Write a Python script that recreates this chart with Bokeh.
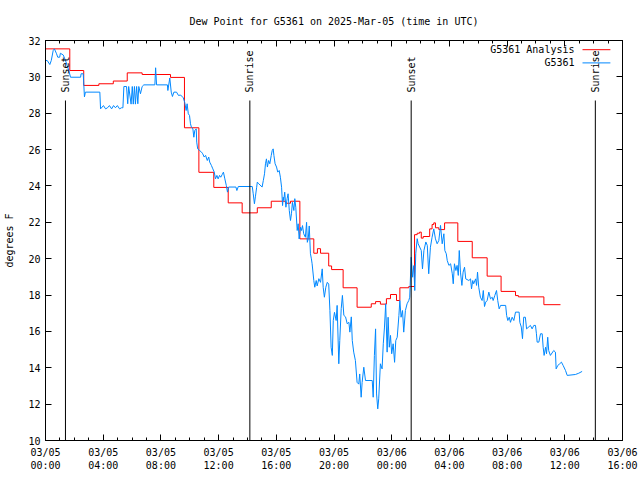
import math
import pandas as pd
from bokeh.plotting import figure
from bokeh.models import (FixedTicker, DatetimeTickFormatter, LinearAxis, DatetimeAxis,
                          Range1d, CustomJSTickFormatter)
from bokeh.embed import file_html
from bokeh.resources import INLINE
from bokeh.core.properties import value

TITLE = "Dew Point for G5361 on 2025-Mar-05 (time in UTC)"
Y_LABEL = "degrees F"
START = "2025-03-05 00:00"
END = "2025-03-06 16:00"
Y_TICKS = [10, 12, 14, 16, 18, 20, 22, 24, 26, 28, 30, 32]

# Analysis series (minutes after START, degrees F), step-wise
analysis_minutes = [0, 101, 159, 222, 282, 340, 402, 520, 578, 638, 700, 760, 818, 881, 939,
                    998, 1019, 1058, 1116, 1131, 1144, 1178, 1190, 1238, 1296, 1355, 1373,
                    1393, 1418, 1435, 1460, 1474, 1511, 1535, 1546, 1556, 1563, 1571, 1598,
                    1608, 1615, 1622, 1636, 1660, 1715, 1775, 1837, 1895, 1955, 1967, 2073,
                    2142]
analysis_values = [31.54, 30.35, 29.53, 29.62, 29.77, 30.22, 30.13, 29.97, 27.2, 24.75, 23.92,
                   23.07, 22.52, 22.8, 23.16, 23.05, 23.16, 21.09, 20.3, 20.55, 20.3, 19.6,
                   19.4, 18.4, 17.33, 17.52, 17.64, 17.5, 17.8, 18.03, 17.7, 18.4, 18.47,
                   21.32, 21.4, 21.46, 21.13, 21.22, 21.64, 21.88, 21.97, 21.7, 21.6, 21.97,
                   20.95, 20.05, 19.04, 18.2, 17.97, 17.9, 17.47, 17.47]

# Station observations (minutes after START, degrees F)
obs_minutes = [2, 7, 18, 24, 32, 37, 46, 51, 59, 62, 74, 83, 90, 97, 104, 146, 148, 157, 162,
               166, 226, 229, 241, 250, 258, 266, 275, 283, 291, 299, 308, 316, 322, 326, 337,
               342, 346, 356, 361, 365, 370, 374, 379, 384, 388, 395, 402, 409, 455, 458, 462,
               507, 509, 517, 523, 528, 534, 545, 553, 562, 573, 579, 585, 589, 594, 599, 603,
               607, 613, 617, 621, 627, 629, 633, 641, 649, 654, 660, 666, 673, 679, 683, 690,
               696, 702, 707, 713, 718, 724, 729, 735, 740, 746, 752, 757, 762, 792, 796, 802,
               860, 864, 869, 873, 878, 881, 887, 901, 906, 911, 915, 919, 923, 928, 933, 939,
               943, 947, 950, 955, 961, 966, 972, 977, 982, 986, 989, 991, 995, 1000, 1005,
               1009, 1014, 1019, 1023, 1027, 1033, 1037, 1041, 1047, 1051, 1055, 1061, 1065,
               1069, 1074, 1081, 1086, 1089, 1093, 1097, 1102, 1106, 1109, 1116, 1120, 1126,
               1130, 1137, 1144, 1151, 1155, 1160, 1166, 1172, 1178, 1183, 1188, 1193, 1197,
               1202, 1209, 1213, 1220, 1224, 1230, 1235, 1241, 1248, 1255, 1262, 1266, 1272,
               1276, 1282, 1289, 1296, 1303, 1307, 1313, 1317, 1324, 1331, 1359, 1363, 1368,
               1373, 1377, 1382, 1386, 1393, 1400, 1405, 1410, 1415, 1421, 1425, 1430, 1435,
               1440, 1446, 1452, 1457, 1463, 1470, 1474, 1479, 1485, 1490, 1497, 1504, 1511,
               1515, 1521, 1527, 1532, 1536, 1540, 1546, 1550, 1563, 1568, 1574, 1582, 1588,
               1594, 1601, 1608, 1615, 1622, 1629, 1636, 1643, 1650, 1657, 1661, 1667, 1671,
               1678, 1685, 1692, 1696, 1701, 1707, 1712, 1717, 1721, 1726, 1732, 1737, 1743,
               1748, 1761, 1768, 1772, 1777, 1781, 1789, 1793, 1797, 1802, 1809, 1816, 1821,
               1826, 1831, 1837, 1844, 1851, 1858, 1862, 1869, 1876, 1881, 1887, 1893, 1914,
               1918, 1923, 1929, 1934, 1941, 1948, 1955, 1970, 1973, 1979, 1984, 1989, 1996,
               2001, 2017, 2024, 2031, 2038, 2042, 2045, 2052, 2059, 2066, 2070, 2074, 2080,
               2084, 2089, 2093, 2100, 2114, 2121, 2124, 2131, 2139, 2146, 2153, 2163, 2170,
               2204, 2218, 2232]
obs_values = [30.9, 30.9, 30.68, 30.9, 31.45, 31.54, 31.27, 31.08, 31.08, 31.3, 31.2, 30.9,
              30.63, 30.35, 29.98, 29.98, 30.17, 30.17, 28.9, 29.16, 29.16, 28.24, 28.42,
              28.24, 28.3, 28.42, 28.24, 28.42, 28.3, 28.42, 28.24, 28.3, 28.3, 29.47, 29.47,
              28.52, 29.47, 28.5, 29.47, 28.5, 29.47, 28.5, 29.47, 28.52, 29.47, 29.07, 29.47,
              29.56, 29.56, 30.5, 29.56, 29.56, 29.25, 29.94, 29.16, 28.92, 29.16, 29.16,
              28.98, 29.0, 28.85, 28.6, 28.15, 28.52, 27.97, 27.88, 27.42, 27.23, 27.14,
              26.68, 27.05, 27.14, 26.41, 26.04, 25.95, 25.86, 25.77, 25.59, 25.68, 25.4,
              25.59, 25.31, 25.13, 24.94, 24.76, 24.39, 24.58, 24.39, 24.58, 24.48, 24.63,
              24.76, 24.39, 24.03, 23.66, 23.94, 23.94, 23.75, 23.97, 23.97, 23.57, 23.02,
              23.4, 23.9, 24.21, 24.12, 23.94, 24.3, 24.67, 25.22, 25.49, 25.04, 25.4, 25.22,
              25.68, 25.95, 26.04, 25.68, 25.22, 25.04, 24.76, 24.85, 24.48, 23.93, 22.92,
              23.38, 23.2, 23.66, 22.83, 23.3, 23.57, 22.65, 22.1, 22.47, 23.1, 22.65, 23.3,
              22.83, 21.55, 21.92, 21.09, 21.73, 21.55, 21.82, 21.37, 21.18, 22.0, 20.9,
              21.1, 21.8, 20.27, 19.99, 19.72, 18.8, 18.43, 18.8, 18.5, 18.9, 18.7, 19.44,
              18.43, 17.88, 18.43, 18.7, 18.6, 17.15, 15.13, 14.68, 16.6, 17.05, 16.6, 17.43,
              14.22, 15.5, 17.25, 17.98, 16.88, 16.8, 16.42, 16.5, 15.96, 16.8, 15.5, 14.86,
              14.4, 13.2, 13.1, 13.66, 12.38, 13.2, 14.03, 13.3, 13.3, 12.38, 14.68, 16.14,
              12.56, 11.74, 12.29, 14.22, 13.94, 15.32, 16.24, 17.52, 14.86, 16.78, 15.13,
              15.78, 14.77, 15.32, 14.3, 15.5, 15.68, 16.88, 17.7, 16.78, 17.15, 15.96, 17.15,
              17.52, 17.7, 17.88, 20.08, 18.98, 19.62, 18.25, 20.27, 21.1, 20.82, 20.45,
              19.44, 20.45, 20.92, 20.73, 19.17, 20.63, 21.18, 21.64, 21.09, 20.82, 21.0,
              21.83, 20.82, 21.37, 20.45, 20.27, 19.9, 19.63, 19.72, 19.17, 18.62, 19.72,
              19.35, 19.63, 19.08, 20.45, 19.26, 18.53, 19.26, 19.53, 18.89, 18.8, 18.89,
              18.34, 18.8, 18.62, 18.89, 18.53, 19.26, 18.43, 17.88, 17.7, 18.25, 17.37,
              17.61, 17.7, 18.16, 17.79, 17.88, 17.7, 17.98, 18.25, 17.7, 17.24, 17.43, 17.43,
              16.88, 16.6, 16.78, 16.5, 16.78, 16.6, 17.06, 17.06, 16.5, 16.24, 15.6, 16.78,
              16.78, 16.14, 16.33, 16.14, 16.33, 16.33, 15.87, 15.41, 15.41, 15.87, 15.87,
              15.13, 14.68, 15.13, 14.77, 15.68, 14.95, 14.68, 14.95, 14.86, 13.94, 14.13,
              14.22, 14.31, 14.13, 13.85, 13.58, 13.63, 13.7, 13.8]

event_names = ["Sunset", "Sunrise", "Sunset", "Sunrise"]
event_times = ["2025-03-05 01:23", "2025-03-05 14:10", "2025-03-06 01:21", "2025-03-06 14:07"]

legend_names = ["G5361 Analysis", "G5361"]
RED = "#ff0000"
BLUE = "#0088ff"
FONT = "DejaVu Sans Mono"
FS = "10px"

t0 = pd.Timestamp(START)
t1 = pd.Timestamp(END)
a_t = [t0 + pd.Timedelta(minutes=m) for m in analysis_minutes]
o_t = [t0 + pd.Timedelta(minutes=m) for m in obs_minutes]
e_t = [pd.Timestamp(s) for s in event_times]
Y0, Y1 = Y_TICKS[0], Y_TICKS[-1]


def xf(frac):
    return t0 + (t1 - t0) * frac


def yf(frac):
    return Y0 + (Y1 - Y0) * frac


p = figure(width=640, height=480, x_axis_type="datetime", output_backend="svg",
           toolbar_location=None, x_range=Range1d(t0, t1), y_range=Range1d(Y0, Y1),
           min_border_left=45, min_border_right=18, min_border_top=40, min_border_bottom=40)
p.background_fill_color = "white"
p.border_fill_color = "white"
p.outline_line_color = "black"
p.outline_line_width = 1
p.xgrid.visible = False
p.ygrid.visible = False

p.title.text = TITLE
p.title.align = "center"
p.title.text_font = FONT
p.title.text_font_size = FS
p.title.text_font_style = "normal"
p.title.text_color = "black"
p.title.standoff = 27

ms = lambda t: t.value / 1e6
major = [ms(t0 + pd.Timedelta(hours=h)) for h in range(0, 41, 4)]
minor = [ms(t0 + pd.Timedelta(hours=h)) for h in range(0, 41)]
xticker = FixedTicker(ticks=major, minor_ticks=minor)
yticker = FixedTicker(ticks=Y_TICKS)
fmt = "%m/%d\n%H:%M"
xfmt = DatetimeTickFormatter(microseconds=fmt, milliseconds=fmt, seconds=fmt, minsec=fmt,
                             minutes=fmt, hourmin=fmt, hours=fmt, days=fmt, months=fmt,
                             years=fmt, context=None, strip_leading_zeros=False)
blank = CustomJSTickFormatter(code="return ''")

xa = p.xaxis[0]
xa.ticker = xticker
xa.formatter = xfmt
ya = p.yaxis[0]
ya.ticker = yticker
ya.axis_label = Y_LABEL
ya.axis_label_text_font = FONT
ya.axis_label_text_font_size = FS
ya.axis_label_text_font_style = "normal"
ya.axis_label_text_color = "black"
ya.axis_label_standoff = 10

top = DatetimeAxis(ticker=xticker, formatter=blank)
right = LinearAxis(ticker=yticker, formatter=blank)
p.add_layout(top, "above")
p.add_layout(right, "right")

for ax in (xa, ya, top, right):
    ax.major_tick_in = 6
    ax.major_tick_out = 0
    ax.minor_tick_in = 3
    ax.minor_tick_out = 0
    ax.axis_line_color = "black"
    ax.major_tick_line_color = "black"
    ax.minor_tick_line_color = "black"
    ax.major_label_text_font = FONT
    ax.major_label_text_font_size = FS
    ax.major_label_text_color = "black"
for ax in (top, right):
    ax.major_label_standoff = 0
ya.major_label_standoff = 5
xa.major_label_standoff = 6

# series
p.step(a_t, analysis_values, mode="after", line_color=RED, line_width=1)
p.line(o_t, obs_values, line_color=BLUE, line_width=1)

# sunrise / sunset markers
p.segment(x0=e_t, y0=[Y0] * len(e_t), x1=e_t, y1=[yf(0.85)] * len(e_t),
          line_color="black", line_width=1)
p.text(x=e_t, y=[yf(0.87)] * len(e_t), text=event_names, angle=math.pi / 2,
       text_align="left", text_baseline="middle", text_font=value(FONT),
       text_font_size=FS, text_color="black")

# legend (gnuplot style: text then line sample)
leg_y = [yf(0.977), yf(0.944)]
p.text(x=[xf(0.9168)] * 2, y=leg_y, text=legend_names, text_align="right",
       text_baseline="middle", text_font=value(FONT), text_font_size=FS, text_color="black")
p.segment(x0=[xf(0.9307)] * 2, y0=leg_y, x1=[xf(0.979)] * 2, y1=leg_y,
          line_color=[RED, BLUE], line_width=1)

open("out.html", "w").write(file_html(p, INLINE))
